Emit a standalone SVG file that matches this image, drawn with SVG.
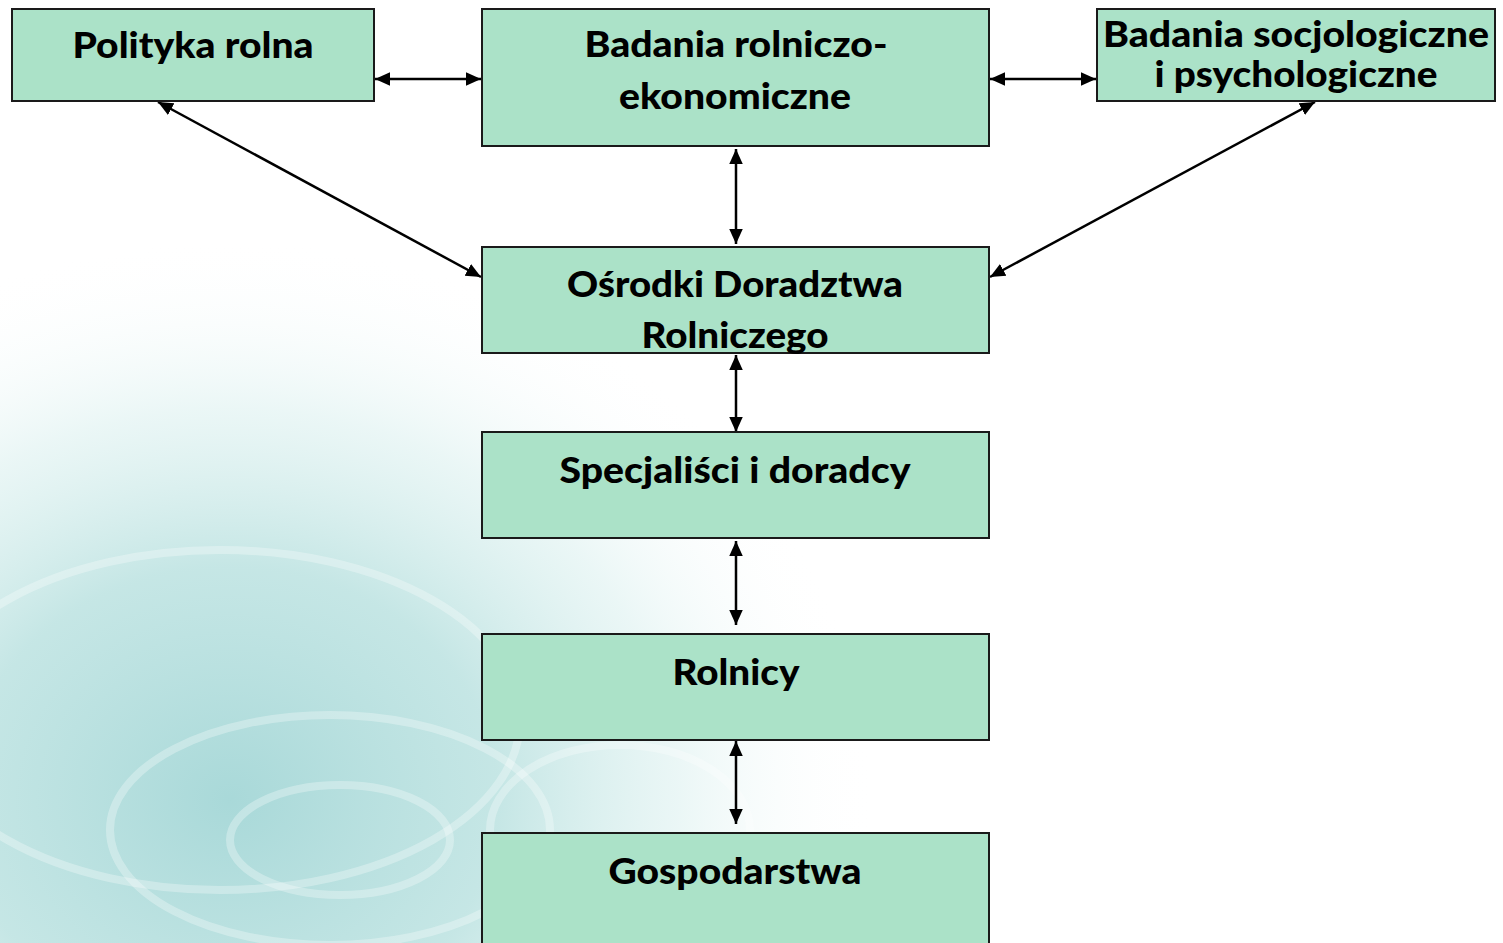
<svg xmlns="http://www.w3.org/2000/svg" width="1503" height="943" viewBox="0 0 1503 943">
<style>
.box{fill:#ABE2C8;stroke:#1a1a1a;stroke-width:2}
.t{font-family:Lato,"Open Sans","Liberation Sans",sans-serif;font-weight:900;font-size:36px;fill:#000;text-anchor:middle}
.c{stroke:#000;stroke-width:2.5;fill:none;marker-start:url(#ah);marker-end:url(#ah)}
</style>
<defs>
<marker id="ah" viewBox="0 0 10 10" refX="10" refY="5" markerWidth="15" markerHeight="15" orient="auto-start-reverse" markerUnits="userSpaceOnUse">
<path d="M0,0.5 L10,5 L0,9.5 z" fill="#000"/>
</marker>
<radialGradient id="water" cx="230" cy="800" r="780" gradientUnits="userSpaceOnUse" gradientTransform="translate(230 800) scale(1.15 1) translate(-230 -800)">
<stop offset="0" stop-color="#8ccccc" stop-opacity="0.75"/>
<stop offset="0.3" stop-color="#9fd6d4" stop-opacity="0.6"/>
<stop offset="0.5" stop-color="#c4e7e5" stop-opacity="0.35"/>
<stop offset="0.62" stop-color="#e3f4f3" stop-opacity="0.15"/>
<stop offset="0.72" stop-color="#ffffff" stop-opacity="0"/>
</radialGradient>
</defs>
<rect width="1503" height="943" fill="#fff"/>
<g id="background">
<rect x="0" y="0" width="1503" height="943" fill="url(#water)"/>
<g fill="none" stroke="#ffffff" stroke-opacity="0.3" stroke-width="8">
<ellipse cx="340" cy="840" rx="110" ry="55"/>
<ellipse cx="330" cy="830" rx="220" ry="115"/>
<ellipse cx="220" cy="720" rx="300" ry="170"/>
<ellipse cx="620" cy="830" rx="130" ry="85"/>
</g>
</g>
<g id="connectors">
<line class="c" x1="375" y1="79" x2="481" y2="79"/>
<line class="c" x1="990" y1="79" x2="1096" y2="79"/>
<line class="c" x1="736" y1="149" x2="736" y2="244"/>
<line class="c" x1="158" y1="102" x2="481" y2="277"/>
<line class="c" x1="1315" y1="102" x2="990" y2="277"/>
<line class="c" x1="736" y1="355" x2="736" y2="432"/>
<line class="c" x1="736" y1="541" x2="736" y2="625"/>
<line class="c" x1="736" y1="741" x2="736" y2="824"/>
</g>
<g id="polityka">
<rect class="box" x="12" y="9" width="362" height="92"/>
<text class="t" x="193" y="58" textLength="241" lengthAdjust="spacingAndGlyphs">Polityka rolna</text>
</g>
<g id="badania-rolniczo">
<rect class="box" x="482" y="9" width="507" height="137"/>
<text class="t" x="736" y="57" textLength="303" lengthAdjust="spacingAndGlyphs">Badania rolniczo-</text>
<text class="t" x="735" y="109" textLength="232" lengthAdjust="spacingAndGlyphs">ekonomiczne</text>
</g>
<g id="badania-socjo">
<rect class="box" x="1097" y="9" width="398" height="92"/>
<text class="t" x="1296" y="47" textLength="386" lengthAdjust="spacingAndGlyphs">Badania socjologiczne</text>
<text class="t" x="1296" y="87" textLength="283" lengthAdjust="spacingAndGlyphs">i psychologiczne</text>
</g>
<g id="osrodki">
<rect class="box" x="482" y="247" width="507" height="106"/>
<text class="t" x="735" y="297" textLength="336" lengthAdjust="spacingAndGlyphs">Ośrodki Doradztwa</text>
<text class="t" x="735" y="348" textLength="187" lengthAdjust="spacingAndGlyphs">Rolniczego</text>
</g>
<g id="specjalisci">
<rect class="box" x="482" y="432" width="507" height="106"/>
<text class="t" x="735" y="483" textLength="351" lengthAdjust="spacingAndGlyphs">Specjaliści i doradcy</text>
</g>
<g id="rolnicy">
<rect class="box" x="482" y="634" width="507" height="106"/>
<text class="t" x="736" y="685" textLength="127" lengthAdjust="spacingAndGlyphs">Rolnicy</text>
</g>
<g id="gospodarstwa">
<rect class="box" x="482" y="833" width="507" height="120"/>
<text class="t" x="735" y="884" textLength="253" lengthAdjust="spacingAndGlyphs">Gospodarstwa</text>
</g>
</svg>
